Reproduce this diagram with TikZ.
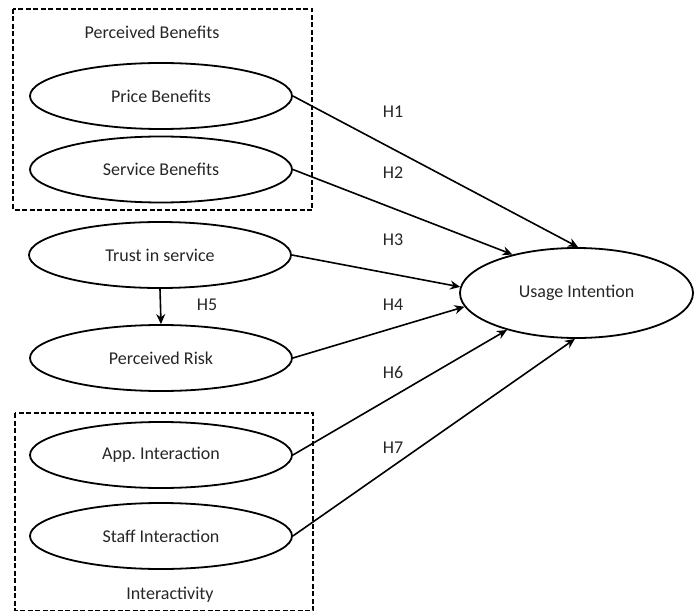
\documentclass[tikz,border=0pt]{standalone}
\usepackage{fontspec}
\setmainfont{Carlito}
\usetikzlibrary{shapes.geometric,arrows.meta}

\begin{document}
\begin{tikzpicture}[x=1pt,y=-1pt,
construct/.style={draw,ellipse,line width=1.8pt,minimum width=262pt,minimum height=66pt,
  inner sep=0pt,font=\fontsize{18}{22}\selectfont,text=black!85},
grp/.style={draw,line width=1.5pt,dash pattern=on 5pt off 2.5pt},
hyp/.style={-{Stealth[length=10pt,width=9pt]},line width=1.6pt},
lbl/.style={font=\fontsize{18}{22}\selectfont,text=black!85}]
\useasboundingbox (0,0) rectangle (695,612);
% groups
\draw[grp] (13,9) rectangle (312,210);
\draw[grp] (15,413) rectangle (313,610.5);
\node[lbl] (pbt) at (152,32) {Perceived Benefits};
\node[lbl] (int) at (170,595) {Interactivity};
% constructs
\node[construct] (pb) at (161,96) {Price Benefits};
\node[construct] (sb) at (161,169.5) {Service Benefits};
\node[construct] (ts) at (160,255) {Trust in service};
\node[construct] (pr) at (161,358) {Perceived Risk};
\node[construct] (ai) at (161,455) {App.\ Interaction};
\node[construct] (si) at (161,536) {Staff Interaction};
\node[construct,minimum width=233pt,minimum height=90pt] (ui) at (576.5,293) {Usage Intention};
% hypotheses
\foreach \s/\a/\h/\y in {pb/88/H1/112, sb/149/H2/173, ts/177/H3/240, pr/187/H4/305, ai/208/H6/372, si/268/H7/448}{
\draw[hyp] (\s.east)--(ui.\a);
\node[lbl] (l\h) at (393,\y) {\h};
}
\draw[hyp] (ts.south)--(pr.north);
\node[lbl] (lH5) at (207,305) {H5};
\end{tikzpicture}
\end{document}
